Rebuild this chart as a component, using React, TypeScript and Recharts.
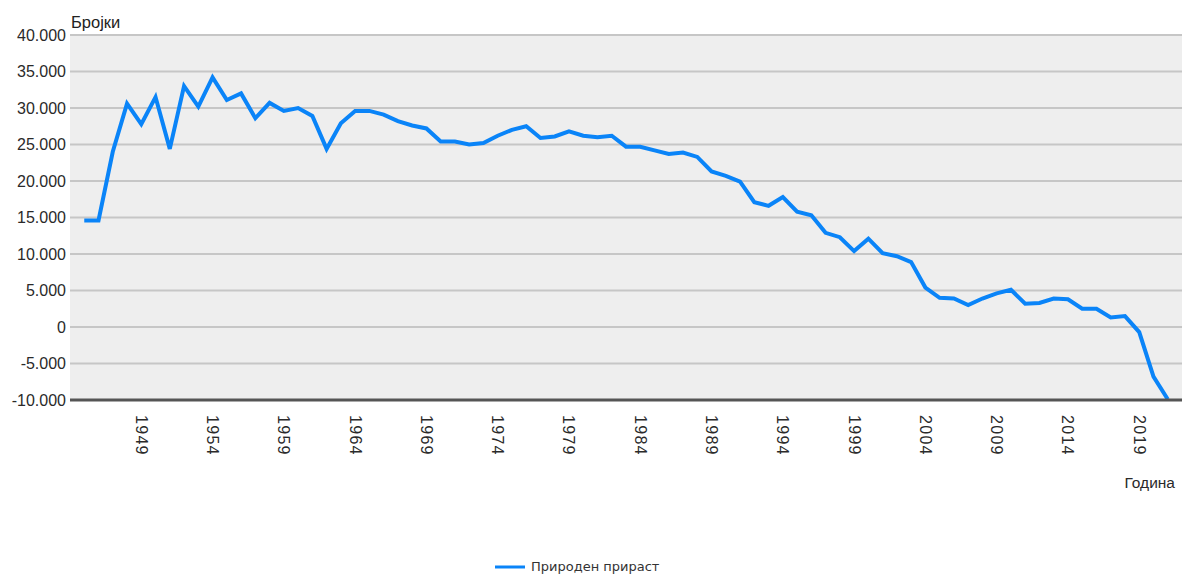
import React from 'react';
import {
  LineChart,
  Line,
  XAxis,
  YAxis,
  CartesianGrid,
  Legend,
} from 'recharts';

const years = [
  1945, 1946, 1947, 1948, 1949, 1950, 1951, 1952, 1953, 1954,
  1955, 1956, 1957, 1958, 1959, 1960, 1961, 1962, 1963, 1964,
  1965, 1966, 1967, 1968, 1969, 1970, 1971, 1972, 1973, 1974,
  1975, 1976, 1977, 1978, 1979, 1980, 1981, 1982, 1983, 1984,
  1985, 1986, 1987, 1988, 1989, 1990, 1991, 1992, 1993, 1994,
  1995, 1996, 1997, 1998, 1999, 2000, 2001, 2002, 2003, 2004,
  2005, 2006, 2007, 2008, 2009, 2010, 2011, 2012, 2013, 2014,
  2015, 2016, 2017, 2018, 2019, 2020, 2021,
];

// природен прираст
const naturalIncrease = [
  14600, 14600, 24000, 30600, 27800, 31500, 24400, 33000, 30200, 34200,
  31100, 32000, 28600, 30700, 29600, 30000, 28900, 24400, 27900, 29600,
  29600, 29100, 28200, 27600, 27200, 25400, 25400, 25000, 25200, 26200,
  27000, 27500, 25900, 26100, 26800, 26200, 26000, 26200, 24700, 24700,
  24200, 23700, 23900, 23300, 21300, 20700, 19900, 17100, 16600, 17800,
  15800, 15300, 12900, 12300, 10400, 12100, 10100, 9700, 8900, 5400,
  4000, 3900, 3000, 3900, 4600, 5100, 3200, 3300, 3900, 3800,
  2500, 2500, 1300, 1500, -700, -6800, -9900,
];

const xTicks = [1949, 1954, 1959, 1964, 1969, 1974, 1979, 1984, 1989, 1994, 1999, 2004, 2009, 2014, 2019];
const yTicks = [-10000, -5000, 0, 5000, 10000, 15000, 20000, 25000, 30000, 35000, 40000];

const seriesName = 'Природен прираст';
const yTitle = 'Бројки';
const xTitle = 'Година';

const data = years.map((year, i) => ({ year, value: naturalIncrease[i] }));

const FONT = '"Liberation Sans", Arial, sans-serif';
const LINE_COLOR = '#0a84f8';

const fmt = (v: number) => {
  const s = Math.abs(v).toString().replace(/\B(?=(\d{3})+(?!\d))/g, '.');
  return v < 0 ? '-' + s : s;
};

const YearTick = (props: any) => {
  const { x, y, payload } = props;
  return (
    <text
      x={x}
      y={y + 13}
      transform={`rotate(90, ${x}, ${y + 13})`}
      textAnchor="start"
      dominantBaseline="central"
      fontFamily={FONT}
      fontSize={16}
      letterSpacing={1.3}
      fill="#2a2a2a"
    >
      {payload.value}
    </text>
  );
};

const renderLegend = () => (
  <div style={{ position: 'relative', height: 20, width: 1182 }}>
    <svg width={40} height={20} style={{ position: 'absolute', left: 495, top: 0 }}>
      <line x1={0} y1={10} x2={30} y2={10} stroke={LINE_COLOR} strokeWidth={3} />
    </svg>
    <span
      style={{
        position: 'absolute',
        left: 531,
        top: 2,
        fontFamily: '"DejaVu Sans", sans-serif',
        fontSize: 13,
        color: '#333',
        whiteSpace: 'nowrap',
      }}
    >
      {seriesName}
    </span>
  </div>
);

export default function App() {
  return (
    <div style={{ position: 'absolute', left: 0, top: 0, width: 1182, height: 577, background: '#fff' }}>
      <LineChart
        width={1182}
        height={577}
        data={data}
        margin={{ top: 35, right: 0, bottom: 0, left: 0 }}
      >
        <CartesianGrid vertical={false} stroke="#c6c6c6" strokeWidth={2} fill="#eeeeee" />
        <XAxis
          dataKey="year"
          type="number"
          domain={[1944, 2022]}
          ticks={xTicks}
          interval={0}
          height={157}
          tickSize={0}
          tickLine={false}
          axisLine={{ stroke: '#555', strokeWidth: 3 }}
          tick={<YearTick />}
          label={{
            content: (p: any) => {
              const vb = p.viewBox;
              return (
                <text
                  x={vb.x + vb.width - 7}
                  y={488}
                  textAnchor="end"
                  fontFamily={FONT}
                  fontSize={15.5}
                  fill="#2a2a2a"
                >
                  {xTitle}
                </text>
              );
            },
          }}
        />
        <YAxis
          domain={[-10000, 40000]}
          ticks={yTicks}
          interval={0}
          width={70}
          tickSize={0}
          tickMargin={4}
          tickLine={false}
          axisLine={false}
          tickFormatter={fmt}
          tick={{ fontFamily: FONT, fontSize: 16, fill: '#2a2a2a' }}
          label={{
            content: (p: any) => {
              const vb = p.viewBox;
              return (
                <text
                  x={vb.x + vb.width + 1}
                  y={28}
                  textAnchor="start"
                  fontFamily={FONT}
                  fontSize={16.5}
                  fill="#222"
                >
                  {yTitle}
                </text>
              );
            },
          }}
        />
        <Legend verticalAlign="bottom" height={20} content={renderLegend} />
        <Line
          type="linear"
          dataKey="value"
          name={seriesName}
          stroke={LINE_COLOR}
          strokeWidth={4}
          dot={false}
          activeDot={false}
          isAnimationActive={false}
        />
      </LineChart>
    </div>
  );
}
